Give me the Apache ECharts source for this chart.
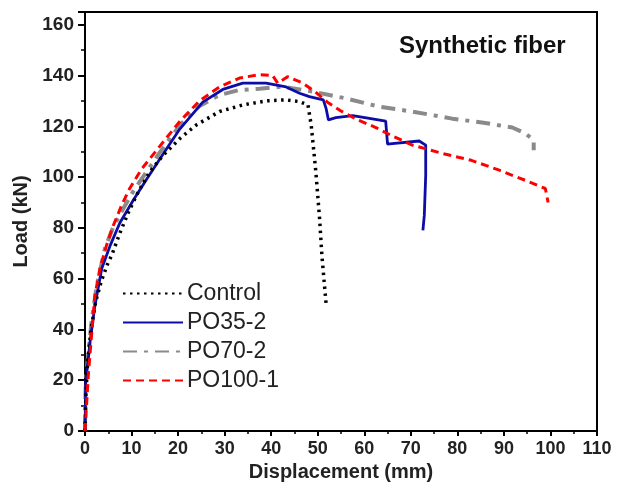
<!DOCTYPE html>
<html><head><meta charset="utf-8">
<script src="https://cdn.jsdelivr.net/npm/echarts@6/dist/echarts.min.js"></script>
<style>html,body{margin:0;padding:0;background:#fff}#c{width:629px;height:491px}</style>
</head><body><div id="c"></div>
<script>
const seriesNames = ['Control', 'PO35-2', 'PO70-2', 'PO100-1'];
const chartTitle = 'Synthetic fiber';
const xTicks = [0,10,20,30,40,50,60,70,80,90,100,110];
const yTicks = [0,20,40,60,80,100,120,140,160];

const controlX = [0,0.2,0.6,1.3,2.3,3.5,5,5.7,7.5,9.3,11.4,13.9,16.8,20.4,23.9,28.9,33.9,38.9,43.2,46.1,47.9,48.6,49.6,50.4,50.9,51.8];
const controlY = [0,15,28,40,51,59,66.5,69,78,86,94,102,108.6,115.2,120.5,125.8,128.4,130,130.4,129.7,128.4,120.5,102,83.6,69,50];

const po35X = [0,0.15,1.07,2.1,3.6,5.4,7.5,10.4,13.2,17.1,20.4,25.3,29.6,33.9,38.9,43.2,46.1,48.2,51.2,51.8,52.3,53.9,57.5,61.1,64.6,65,66,71.8,73.2,73.2,72.9,72.6];
const po35Y = [0,19,35,49,64,73,82,91,99,110,119,129.5,134.5,137,137,135.5,133,131.7,130.4,127,122.5,123.4,124.2,123.1,122,113,113.2,114.2,112.6,100.7,85,79];

const po70X = [0,0.1,0.36,1.4,2.5,4.3,6.1,8.2,10.4,13.2,16,20.4,24.6,28.9,33.2,37.5,42.5,48.9,52.5,56,63.2,70.3,78.9,86,91.8,94.6,96.4,96.4];
const po70Y = [0,15,24,43,57,72,80.5,87.5,94.5,102,109.5,120.5,128,132.3,134.3,134.8,135.6,133.7,132.3,131,127.7,125.8,123,121.3,119.5,117.2,114.5,110.6];

const po100X = [0,0.36,0.7,1.4,2.1,3.2,4.6,6.1,7.9,9.6,12.1,16,20.4,24.6,28.9,33.2,37.5,40.3,41.4,43.5,46.8,49.5,52.1,55,58.6,62.5,66,70.3,76.8,83,89,94.6,98.9,99.5];
const po100Y = [0,11,21.7,37.5,53,64,73,81,89,95.5,103,112,122,130,135.5,139,140.3,140,137,139.5,137,133.5,129.5,126,122.5,119.5,116.2,112.6,109.3,106.6,102.7,98.7,95.5,90];

function pairs(xs, ys){ return xs.map((x,i)=>[x, ys[i]]); }

const chart = echarts.init(document.getElementById('c'), null, {renderer:'canvas'});
const font = 'Liberation Sans, Arial, sans-serif';
chart.setOption({
  animation:false,
  backgroundColor:'#fff',
  title:{text:chartTitle, left:394, top:29, textStyle:{fontFamily:font, fontWeight:'bold', fontSize:24, color:'#111'}},
  grid:{left:85, right:32, top:12, bottom:60, show:true, borderColor:'#000', borderWidth:2, backgroundColor:'transparent'},
  legend:{
    orient:'vertical', left:117, top:277, itemWidth:60, itemHeight:22, itemGap:6,
    data:seriesNames,
    itemStyle:{opacity:0},
    textStyle:{fontFamily:font, fontSize:23, color:'#222', padding:[0,0,0,-1]}
  },
  xAxis:{
    type:'value', min:0, max:110, interval:10,
    name:'Displacement (mm)', nameLocation:'middle', nameGap:28,
    nameTextStyle:{fontFamily:font, fontWeight:'bold', fontSize:20, color:'#222'},
    axisLine:{lineStyle:{color:'#000', width:2}},
    axisTick:{show:true, inside:false, length:5, lineStyle:{color:'#000', width:2}},
    minorTick:{show:true, splitNumber:2, length:3, lineStyle:{color:'#000', width:1.5}},
    axisLabel:{fontFamily:font, fontWeight:'bold', fontSize:18, color:'#222', margin:9,
      formatter:v=> xTicks.indexOf(v)>=0 ? String(v) : ''},
    splitLine:{show:false}
  },
  yAxis:{
    type:'value', min:0, max:165, interval:20,
    name:'Load (kN)', nameLocation:'middle', nameGap:51, nameRotate:90,
    nameTextStyle:{fontFamily:font, fontWeight:'bold', fontSize:20, color:'#222'},
    axisLine:{lineStyle:{color:'#000', width:2}},
    axisTick:{show:true, inside:false, length:7, lineStyle:{color:'#000', width:2}},
    minorTick:{show:true, splitNumber:2, length:4, lineStyle:{color:'#000', width:1.5}},
    axisLabel:{fontFamily:font, fontWeight:'bold', fontSize:19, color:'#222', margin:11,
      formatter:v=> yTicks.indexOf(v)>=0 ? String(v) : ''},
    splitLine:{show:false}
  },
  series:[
    {name:seriesNames[0], type:'line', data:pairs(controlX, controlY), showSymbol:false, symbol:'none', z:4,
      itemStyle:{color:'#000'}, lineStyle:{color:'#000', width:3.5, type:[2.5,4.5]}},
    {name:seriesNames[1], type:'line', data:pairs(po35X, po35Y), showSymbol:false, symbol:'none', z:3,
      itemStyle:{color:'#0c0ca8'}, lineStyle:{color:'#0c0ca8', width:2.8, type:'solid'}},
    {name:seriesNames[2], type:'line', data:pairs(po70X, po70Y), showSymbol:false, symbol:'none', z:2,
      itemStyle:{color:'#8a8a8a'}, lineStyle:{color:'#8a8a8a', width:4, type:[14,7,4,7]}},
    {name:seriesNames[3], type:'line', data:pairs(po100X, po100Y), showSymbol:false, symbol:'none', z:5,
      itemStyle:{color:'#ff0000'}, lineStyle:{color:'#ff0000', width:3, type:[8,5]}}
  ]
});
</script></body></html>
